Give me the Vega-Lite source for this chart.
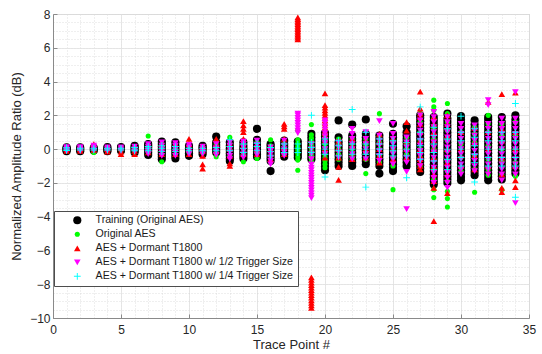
{
  "$schema": "https://vega.github.io/schema/vega-lite/v6.json",
  "width": 476,
  "height": 304,
  "autosize": {"type": "none"},
  "padding": {"left": 53, "top": 14, "right": 13, "bottom": 36},
  "config": {
    "font": "Liberation Sans",
    "view": {"stroke": "#bdbdbd", "strokeWidth": 1},
    "axis": {
      "labelFont": "Liberation Sans",
      "titleFont": "Liberation Sans",
      "labelColor": "#262626",
      "titleColor": "#262626",
      "titleFontWeight": "normal",
      "domainColor": "#8a8a8a",
      "tickColor": "#8a8a8a",
      "gridColor": "#e1e1e1",
      "gridWidth": 0.8
    }
  },
  "data": {
    "values": [
      {"x":1,"y":-0.12,"s":"T"},{"x":1,"y":-0.06,"s":"T"},{"x":1,"y":0,"s":"T"},{"x":1,"y":0.05,"s":"T"},{"x":1,"y":0.11,"s":"T"},
      {"x":2,"y":-0.12,"s":"T"},{"x":2,"y":-0.05,"s":"T"},{"x":2,"y":0.02,"s":"T"},{"x":2,"y":0.1,"s":"T"},
      {"x":3,"y":-0.08,"s":"T"},{"x":3,"y":0,"s":"T"},{"x":3,"y":0.08,"s":"T"},
      {"x":4,"y":-0.12,"s":"T"},{"x":4,"y":-0.04,"s":"T"},{"x":4,"y":0.04,"s":"T"},{"x":4,"y":0.12,"s":"T"},
      {"x":5,"y":-0.1,"s":"T"},{"x":5,"y":-0.02,"s":"T"},{"x":5,"y":0.06,"s":"T"},{"x":5,"y":0.12,"s":"T"},
      {"x":6,"y":-0.2,"s":"T"},{"x":6,"y":-0.1,"s":"T"},{"x":6,"y":0,"s":"T"},{"x":6,"y":0.1,"s":"T"},{"x":6,"y":0.2,"s":"T"},
      {"x":7,"y":-0.35,"s":"T"},{"x":7,"y":-0.2,"s":"T"},{"x":7,"y":-0.05,"s":"T"},{"x":7,"y":0.1,"s":"T"},{"x":7,"y":0.2,"s":"T"},{"x":7,"y":0.3,"s":"T"},
      {"x":8,"y":-0.6,"s":"T"},{"x":8,"y":-0.45,"s":"T"},{"x":8,"y":-0.3,"s":"T"},{"x":8,"y":-0.15,"s":"T"},{"x":8,"y":0,"s":"T"},{"x":8,"y":0.15,"s":"T"},{"x":8,"y":0.3,"s":"T"},{"x":8,"y":0.45,"s":"T"},
      {"x":9,"y":-0.55,"s":"T"},{"x":9,"y":-0.4,"s":"T"},{"x":9,"y":-0.25,"s":"T"},{"x":9,"y":-0.1,"s":"T"},{"x":9,"y":0.05,"s":"T"},{"x":9,"y":0.2,"s":"T"},{"x":9,"y":0.4,"s":"T"},
      {"x":10,"y":-0.4,"s":"T"},{"x":10,"y":-0.25,"s":"T"},{"x":10,"y":-0.1,"s":"T"},{"x":10,"y":0.05,"s":"T"},{"x":10,"y":0.2,"s":"T"},
      {"x":11,"y":-0.3,"s":"T"},{"x":11,"y":-0.15,"s":"T"},{"x":11,"y":0,"s":"T"},{"x":11,"y":0.1,"s":"T"},{"x":11,"y":0.2,"s":"T"},
      {"x":12,"y":-0.2,"s":"T"},{"x":12,"y":-0.05,"s":"T"},{"x":12,"y":0.1,"s":"T"},{"x":12,"y":0.25,"s":"T"},{"x":12,"y":0.4,"s":"T"},{"x":12,"y":0.75,"s":"T"},
      {"x":13,"y":-0.7,"s":"T"},{"x":13,"y":-0.55,"s":"T"},{"x":13,"y":-0.4,"s":"T"},{"x":13,"y":-0.25,"s":"T"},{"x":13,"y":-0.1,"s":"T"},{"x":13,"y":0.05,"s":"T"},{"x":13,"y":0.2,"s":"T"},{"x":13,"y":0.4,"s":"T"},
      {"x":14,"y":-0.55,"s":"T"},{"x":14,"y":-0.4,"s":"T"},{"x":14,"y":-0.25,"s":"T"},{"x":14,"y":-0.1,"s":"T"},{"x":14,"y":0.05,"s":"T"},{"x":14,"y":0.2,"s":"T"},{"x":14,"y":0.4,"s":"T"},
      {"x":15,"y":-0.45,"s":"T"},{"x":15,"y":-0.3,"s":"T"},{"x":15,"y":-0.15,"s":"T"},{"x":15,"y":0,"s":"T"},{"x":15,"y":0.15,"s":"T"},{"x":15,"y":0.3,"s":"T"},{"x":15,"y":0.55,"s":"T"},{"x":15,"y":1.2,"s":"T"},
      {"x":16,"y":-1.3,"s":"T"},{"x":16,"y":-0.7,"s":"T"},{"x":16,"y":-0.55,"s":"T"},{"x":16,"y":-0.4,"s":"T"},{"x":16,"y":-0.25,"s":"T"},{"x":16,"y":-0.1,"s":"T"},{"x":16,"y":0.05,"s":"T"},{"x":16,"y":0.2,"s":"T"},{"x":16,"y":0.3,"s":"T"},
      {"x":17,"y":-0.45,"s":"T"},{"x":17,"y":-0.3,"s":"T"},{"x":17,"y":-0.15,"s":"T"},{"x":17,"y":0,"s":"T"},{"x":17,"y":0.15,"s":"T"},{"x":17,"y":0.3,"s":"T"},{"x":17,"y":0.5,"s":"T"},
      {"x":18,"y":-0.5,"s":"T"},{"x":18,"y":-0.35,"s":"T"},{"x":18,"y":-0.2,"s":"T"},{"x":18,"y":-0.05,"s":"T"},{"x":18,"y":0.1,"s":"T"},{"x":18,"y":0.25,"s":"T"},{"x":18,"y":0.45,"s":"T"},
      {"x":19,"y":-0.6,"s":"T"},{"x":19,"y":-0.45,"s":"T"},{"x":19,"y":-0.3,"s":"T"},{"x":19,"y":-0.15,"s":"T"},{"x":19,"y":0,"s":"T"},{"x":19,"y":0.15,"s":"T"},{"x":19,"y":0.3,"s":"T"},{"x":19,"y":0.5,"s":"T"},{"x":19,"y":0.7,"s":"T"},{"x":19,"y":0.9,"s":"T"},
      {"x":20,"y":-1.25,"s":"T"},{"x":20,"y":-1.05,"s":"T"},{"x":20,"y":-0.85,"s":"T"},{"x":20,"y":-0.65,"s":"T"},{"x":20,"y":-0.45,"s":"T"},{"x":20,"y":-0.25,"s":"T"},{"x":20,"y":-0.05,"s":"T"},{"x":20,"y":0.15,"s":"T"},{"x":20,"y":0.35,"s":"T"},{"x":20,"y":0.55,"s":"T"},{"x":20,"y":0.75,"s":"T"},{"x":20,"y":0.95,"s":"T"},
      {"x":21,"y":-1,"s":"T"},{"x":21,"y":-0.8,"s":"T"},{"x":21,"y":-0.6,"s":"T"},{"x":21,"y":-0.4,"s":"T"},{"x":21,"y":-0.2,"s":"T"},{"x":21,"y":0,"s":"T"},{"x":21,"y":0.2,"s":"T"},{"x":21,"y":0.4,"s":"T"},{"x":21,"y":0.7,"s":"T"},{"x":21,"y":1.7,"s":"T"},
      {"x":22,"y":-1,"s":"T"},{"x":22,"y":-0.8,"s":"T"},{"x":22,"y":-0.6,"s":"T"},{"x":22,"y":-0.4,"s":"T"},{"x":22,"y":-0.2,"s":"T"},{"x":22,"y":0,"s":"T"},{"x":22,"y":0.2,"s":"T"},{"x":22,"y":0.4,"s":"T"},{"x":22,"y":0.6,"s":"T"},{"x":22,"y":0.8,"s":"T"},{"x":22,"y":1.45,"s":"T"},
      {"x":23,"y":-0.9,"s":"T"},{"x":23,"y":-0.7,"s":"T"},{"x":23,"y":-0.5,"s":"T"},{"x":23,"y":-0.3,"s":"T"},{"x":23,"y":-0.1,"s":"T"},{"x":23,"y":0.1,"s":"T"},{"x":23,"y":0.3,"s":"T"},{"x":23,"y":0.5,"s":"T"},{"x":23,"y":0.7,"s":"T"},{"x":23,"y":0.9,"s":"T"},{"x":23,"y":1.75,"s":"T"},
      {"x":24,"y":-1.45,"s":"T"},{"x":24,"y":-1,"s":"T"},{"x":24,"y":-0.8,"s":"T"},{"x":24,"y":-0.6,"s":"T"},{"x":24,"y":-0.4,"s":"T"},{"x":24,"y":-0.2,"s":"T"},{"x":24,"y":0,"s":"T"},{"x":24,"y":0.2,"s":"T"},{"x":24,"y":0.4,"s":"T"},{"x":24,"y":0.6,"s":"T"},{"x":24,"y":0.8,"s":"T"},
      {"x":25,"y":-1.3,"s":"T"},{"x":25,"y":-1.1,"s":"T"},{"x":25,"y":-0.9,"s":"T"},{"x":25,"y":-0.7,"s":"T"},{"x":25,"y":-0.5,"s":"T"},{"x":25,"y":-0.3,"s":"T"},{"x":25,"y":-0.1,"s":"T"},{"x":25,"y":0.1,"s":"T"},{"x":25,"y":0.3,"s":"T"},{"x":25,"y":0.5,"s":"T"},{"x":25,"y":0.7,"s":"T"},{"x":25,"y":0.9,"s":"T"},{"x":25,"y":1.5,"s":"T"},
      {"x":26,"y":-1,"s":"T"},{"x":26,"y":-0.8,"s":"T"},{"x":26,"y":-0.6,"s":"T"},{"x":26,"y":-0.4,"s":"T"},{"x":26,"y":-0.2,"s":"T"},{"x":26,"y":0,"s":"T"},{"x":26,"y":0.2,"s":"T"},{"x":26,"y":0.4,"s":"T"},{"x":26,"y":0.6,"s":"T"},{"x":26,"y":0.8,"s":"T"},{"x":26,"y":1,"s":"T"},{"x":26,"y":1.35,"s":"T"},
      {"x":27,"y":-1.35,"s":"T"},{"x":27,"y":-1.15,"s":"T"},{"x":27,"y":-0.95,"s":"T"},{"x":27,"y":-0.75,"s":"T"},{"x":27,"y":-0.55,"s":"T"},{"x":27,"y":-0.35,"s":"T"},{"x":27,"y":-0.15,"s":"T"},{"x":27,"y":0.05,"s":"T"},{"x":27,"y":0.25,"s":"T"},{"x":27,"y":0.45,"s":"T"},{"x":27,"y":0.65,"s":"T"},{"x":27,"y":0.85,"s":"T"},{"x":27,"y":1.05,"s":"T"},{"x":27,"y":1.25,"s":"T"},{"x":27,"y":1.45,"s":"T"},{"x":27,"y":1.65,"s":"T"},{"x":27,"y":1.85,"s":"T"},{"x":27,"y":2,"s":"T"},
      {"x":28,"y":-2.1,"s":"T"},{"x":28,"y":-1.9,"s":"T"},{"x":28,"y":-1.7,"s":"T"},{"x":28,"y":-1.5,"s":"T"},{"x":28,"y":-1.3,"s":"T"},{"x":28,"y":-1.1,"s":"T"},{"x":28,"y":-0.9,"s":"T"},{"x":28,"y":-0.7,"s":"T"},{"x":28,"y":-0.5,"s":"T"},{"x":28,"y":-0.3,"s":"T"},{"x":28,"y":-0.1,"s":"T"},{"x":28,"y":0.1,"s":"T"},{"x":28,"y":0.3,"s":"T"},{"x":28,"y":0.5,"s":"T"},{"x":28,"y":0.7,"s":"T"},{"x":28,"y":0.9,"s":"T"},{"x":28,"y":1.1,"s":"T"},{"x":28,"y":1.3,"s":"T"},{"x":28,"y":1.5,"s":"T"},{"x":28,"y":1.7,"s":"T"},{"x":28,"y":1.9,"s":"T"},
      {"x":29,"y":-2,"s":"T"},{"x":29,"y":-1.8,"s":"T"},{"x":29,"y":-1.6,"s":"T"},{"x":29,"y":-1.4,"s":"T"},{"x":29,"y":-1.2,"s":"T"},{"x":29,"y":-1,"s":"T"},{"x":29,"y":-0.8,"s":"T"},{"x":29,"y":-0.6,"s":"T"},{"x":29,"y":-0.4,"s":"T"},{"x":29,"y":-0.2,"s":"T"},{"x":29,"y":0,"s":"T"},{"x":29,"y":0.2,"s":"T"},{"x":29,"y":0.4,"s":"T"},{"x":29,"y":0.6,"s":"T"},{"x":29,"y":0.8,"s":"T"},{"x":29,"y":1,"s":"T"},{"x":29,"y":1.2,"s":"T"},{"x":29,"y":1.4,"s":"T"},{"x":29,"y":1.6,"s":"T"},{"x":29,"y":1.8,"s":"T"},{"x":29,"y":2.1,"s":"T"},
      {"x":30,"y":-1.85,"s":"T"},{"x":30,"y":-1.65,"s":"T"},{"x":30,"y":-1.45,"s":"T"},{"x":30,"y":-1.25,"s":"T"},{"x":30,"y":-1.05,"s":"T"},{"x":30,"y":-0.85,"s":"T"},{"x":30,"y":-0.65,"s":"T"},{"x":30,"y":-0.45,"s":"T"},{"x":30,"y":-0.25,"s":"T"},{"x":30,"y":-0.05,"s":"T"},{"x":30,"y":0.15,"s":"T"},{"x":30,"y":0.35,"s":"T"},{"x":30,"y":0.55,"s":"T"},{"x":30,"y":0.75,"s":"T"},{"x":30,"y":0.95,"s":"T"},{"x":30,"y":1.15,"s":"T"},{"x":30,"y":1.35,"s":"T"},{"x":30,"y":1.55,"s":"T"},{"x":30,"y":1.75,"s":"T"},{"x":30,"y":1.95,"s":"T"},
      {"x":31,"y":-1.55,"s":"T"},{"x":31,"y":-1.35,"s":"T"},{"x":31,"y":-1.15,"s":"T"},{"x":31,"y":-0.95,"s":"T"},{"x":31,"y":-0.75,"s":"T"},{"x":31,"y":-0.55,"s":"T"},{"x":31,"y":-0.35,"s":"T"},{"x":31,"y":-0.15,"s":"T"},{"x":31,"y":0.05,"s":"T"},{"x":31,"y":0.25,"s":"T"},{"x":31,"y":0.45,"s":"T"},{"x":31,"y":0.65,"s":"T"},{"x":31,"y":0.85,"s":"T"},{"x":31,"y":1.05,"s":"T"},{"x":31,"y":1.25,"s":"T"},{"x":31,"y":1.45,"s":"T"},{"x":31,"y":1.7,"s":"T"},
      {"x":32,"y":-1.85,"s":"T"},{"x":32,"y":-1.65,"s":"T"},{"x":32,"y":-1.45,"s":"T"},{"x":32,"y":-1.25,"s":"T"},{"x":32,"y":-1.05,"s":"T"},{"x":32,"y":-0.85,"s":"T"},{"x":32,"y":-0.65,"s":"T"},{"x":32,"y":-0.45,"s":"T"},{"x":32,"y":-0.25,"s":"T"},{"x":32,"y":-0.05,"s":"T"},{"x":32,"y":0.15,"s":"T"},{"x":32,"y":0.35,"s":"T"},{"x":32,"y":0.55,"s":"T"},{"x":32,"y":0.75,"s":"T"},{"x":32,"y":0.95,"s":"T"},{"x":32,"y":1.15,"s":"T"},{"x":32,"y":1.35,"s":"T"},{"x":32,"y":1.55,"s":"T"},{"x":32,"y":1.75,"s":"T"},{"x":32,"y":1.9,"s":"T"},
      {"x":33,"y":-1.8,"s":"T"},{"x":33,"y":-1.6,"s":"T"},{"x":33,"y":-1.4,"s":"T"},{"x":33,"y":-1.2,"s":"T"},{"x":33,"y":-1,"s":"T"},{"x":33,"y":-0.8,"s":"T"},{"x":33,"y":-0.6,"s":"T"},{"x":33,"y":-0.4,"s":"T"},{"x":33,"y":-0.2,"s":"T"},{"x":33,"y":0,"s":"T"},{"x":33,"y":0.2,"s":"T"},{"x":33,"y":0.4,"s":"T"},{"x":33,"y":0.6,"s":"T"},{"x":33,"y":0.8,"s":"T"},{"x":33,"y":1,"s":"T"},{"x":33,"y":1.2,"s":"T"},{"x":33,"y":1.4,"s":"T"},{"x":33,"y":1.6,"s":"T"},{"x":33,"y":1.9,"s":"T"},
      {"x":34,"y":-1.45,"s":"T"},{"x":34,"y":-1.25,"s":"T"},{"x":34,"y":-1.05,"s":"T"},{"x":34,"y":-0.85,"s":"T"},{"x":34,"y":-0.65,"s":"T"},{"x":34,"y":-0.45,"s":"T"},{"x":34,"y":-0.25,"s":"T"},{"x":34,"y":-0.05,"s":"T"},{"x":34,"y":0.15,"s":"T"},{"x":34,"y":0.35,"s":"T"},{"x":34,"y":0.55,"s":"T"},{"x":34,"y":0.75,"s":"T"},{"x":34,"y":0.95,"s":"T"},{"x":34,"y":1.15,"s":"T"},{"x":34,"y":1.35,"s":"T"},{"x":34,"y":1.55,"s":"T"},{"x":34,"y":1.75,"s":"T"},{"x":34,"y":2,"s":"T"},

      {"x":1,"y":-0.1,"s":"O"},{"x":1,"y":-0.02,"s":"O"},{"x":1,"y":0.06,"s":"O"},
      {"x":2,"y":-0.08,"s":"O"},{"x":2,"y":0,"s":"O"},{"x":2,"y":0.08,"s":"O"},
      {"x":3,"y":-0.2,"s":"O"},{"x":3,"y":-0.05,"s":"O"},{"x":3,"y":0.05,"s":"O"},
      {"x":4,"y":-0.1,"s":"O"},{"x":4,"y":0,"s":"O"},{"x":4,"y":0.1,"s":"O"},
      {"x":5,"y":-0.05,"s":"O"},{"x":5,"y":0.05,"s":"O"},
      {"x":6,"y":-0.1,"s":"O"},{"x":6,"y":0.05,"s":"O"},
      {"x":7,"y":-0.2,"s":"O"},{"x":7,"y":0,"s":"O"},{"x":7,"y":0.2,"s":"O"},{"x":7,"y":0.78,"s":"O"},
      {"x":8,"y":-0.75,"s":"O"},{"x":8,"y":-0.3,"s":"O"},{"x":8,"y":0,"s":"O"},{"x":8,"y":0.3,"s":"O"},
      {"x":9,"y":-0.3,"s":"O"},{"x":9,"y":0,"s":"O"},{"x":9,"y":0.2,"s":"O"},
      {"x":10,"y":-0.2,"s":"O"},{"x":10,"y":0.05,"s":"O"},
      {"x":11,"y":-0.2,"s":"O"},{"x":11,"y":0.1,"s":"O"},
      {"x":12,"y":-0.45,"s":"O"},{"x":12,"y":-0.2,"s":"O"},{"x":12,"y":0.1,"s":"O"},{"x":12,"y":0.3,"s":"O"},
      {"x":13,"y":-0.4,"s":"O"},{"x":13,"y":0,"s":"O"},{"x":13,"y":0.3,"s":"O"},{"x":13,"y":0.7,"s":"O"},
      {"x":14,"y":-0.75,"s":"O"},{"x":14,"y":-0.3,"s":"O"},{"x":14,"y":0,"s":"O"},{"x":14,"y":0.3,"s":"O"},
      {"x":15,"y":-0.55,"s":"O"},{"x":15,"y":-0.2,"s":"O"},{"x":15,"y":0.1,"s":"O"},{"x":15,"y":0.4,"s":"O"},
      {"x":16,"y":-0.75,"s":"O"},{"x":16,"y":-0.4,"s":"O"},{"x":16,"y":-0.1,"s":"O"},{"x":16,"y":0.2,"s":"O"},{"x":16,"y":0.55,"s":"O"},
      {"x":17,"y":-0.3,"s":"O"},{"x":17,"y":0,"s":"O"},{"x":17,"y":0.3,"s":"O"},
      {"x":18,"y":-1.25,"s":"O"},{"x":18,"y":-0.65,"s":"O"},{"x":18,"y":-0.45,"s":"O"},{"x":18,"y":-0.25,"s":"O"},{"x":18,"y":-0.05,"s":"O"},{"x":18,"y":0.15,"s":"O"},{"x":18,"y":0.35,"s":"O"},{"x":18,"y":0.55,"s":"O"},{"x":18,"y":1.1,"s":"O"},
      {"x":19,"y":-0.75,"s":"O"},{"x":19,"y":-0.55,"s":"O"},{"x":19,"y":-0.35,"s":"O"},{"x":19,"y":-0.15,"s":"O"},{"x":19,"y":0.05,"s":"O"},{"x":19,"y":0.25,"s":"O"},{"x":19,"y":0.45,"s":"O"},{"x":19,"y":0.65,"s":"O"},{"x":19,"y":0.85,"s":"O"},{"x":19,"y":1.45,"s":"O"},
      {"x":20,"y":-1.1,"s":"O"},{"x":20,"y":-0.9,"s":"O"},{"x":20,"y":-0.7,"s":"O"},{"x":20,"y":-0.5,"s":"O"},{"x":20,"y":-0.3,"s":"O"},{"x":20,"y":-0.1,"s":"O"},{"x":20,"y":0.1,"s":"O"},{"x":20,"y":0.3,"s":"O"},{"x":20,"y":0.5,"s":"O"},{"x":20,"y":0.7,"s":"O"},{"x":20,"y":0.9,"s":"O"},
      {"x":21,"y":-0.6,"s":"O"},{"x":21,"y":-0.3,"s":"O"},{"x":21,"y":0,"s":"O"},{"x":21,"y":0.3,"s":"O"},{"x":21,"y":0.6,"s":"O"},
      {"x":22,"y":-0.6,"s":"O"},{"x":22,"y":-0.3,"s":"O"},{"x":22,"y":0,"s":"O"},{"x":22,"y":0.3,"s":"O"},{"x":22,"y":0.6,"s":"O"},
      {"x":23,"y":-1.45,"s":"O"},{"x":23,"y":-0.6,"s":"O"},{"x":23,"y":-0.2,"s":"O"},{"x":23,"y":0.2,"s":"O"},{"x":23,"y":0.6,"s":"O"},
      {"x":24,"y":-0.8,"s":"O"},{"x":24,"y":-0.4,"s":"O"},{"x":24,"y":0,"s":"O"},{"x":24,"y":0.4,"s":"O"},{"x":24,"y":0.8,"s":"O"},{"x":24,"y":2.1,"s":"O"},
      {"x":25,"y":-2.4,"s":"O"},{"x":25,"y":-1,"s":"O"},{"x":25,"y":-0.5,"s":"O"},{"x":25,"y":0,"s":"O"},{"x":25,"y":0.5,"s":"O"},
      {"x":26,"y":-0.65,"s":"O"},{"x":26,"y":-0.3,"s":"O"},{"x":26,"y":0,"s":"O"},{"x":26,"y":0.3,"s":"O"},{"x":26,"y":0.7,"s":"O"},
      {"x":27,"y":-1,"s":"O"},{"x":27,"y":-0.5,"s":"O"},{"x":27,"y":0,"s":"O"},{"x":27,"y":0.5,"s":"O"},{"x":27,"y":1,"s":"O"},{"x":27,"y":1.6,"s":"O"},{"x":27,"y":2.1,"s":"O"},
      {"x":28,"y":-2.87,"s":"O"},{"x":28,"y":-2.4,"s":"O"},{"x":28,"y":-1.8,"s":"O"},{"x":28,"y":-1.2,"s":"O"},{"x":28,"y":-0.6,"s":"O"},{"x":28,"y":0,"s":"O"},{"x":28,"y":0.6,"s":"O"},{"x":28,"y":1.2,"s":"O"},{"x":28,"y":1.8,"s":"O"},{"x":28,"y":2.3,"s":"O"},{"x":28,"y":2.5,"s":"O"},{"x":28,"y":2.9,"s":"O"},
      {"x":29,"y":-3.43,"s":"O"},{"x":29,"y":-2.93,"s":"O"},{"x":29,"y":-2.5,"s":"O"},{"x":29,"y":-1.9,"s":"O"},{"x":29,"y":-1.3,"s":"O"},{"x":29,"y":-0.7,"s":"O"},{"x":29,"y":-0.1,"s":"O"},{"x":29,"y":0.5,"s":"O"},{"x":29,"y":1.1,"s":"O"},{"x":29,"y":1.6,"s":"O"},{"x":29,"y":2.1,"s":"O"},{"x":29,"y":2.7,"s":"O"},
      {"x":30,"y":-1.3,"s":"O"},{"x":30,"y":-0.5,"s":"O"},{"x":30,"y":0.3,"s":"O"},{"x":30,"y":1,"s":"O"},
      {"x":31,"y":-2.55,"s":"O"},{"x":31,"y":-1.2,"s":"O"},{"x":31,"y":-0.4,"s":"O"},{"x":31,"y":0.4,"s":"O"},{"x":31,"y":0.9,"s":"O"},{"x":31,"y":1.3,"s":"O"},
      {"x":32,"y":-1.55,"s":"O"},{"x":32,"y":-1.2,"s":"O"},{"x":32,"y":-0.6,"s":"O"},{"x":32,"y":0.2,"s":"O"},{"x":32,"y":1,"s":"O"},{"x":32,"y":1.5,"s":"O"},{"x":32,"y":2,"s":"O"},
      {"x":33,"y":-2.4,"s":"O"},{"x":33,"y":-1.5,"s":"O"},{"x":33,"y":-0.7,"s":"O"},{"x":33,"y":0,"s":"O"},{"x":33,"y":0.8,"s":"O"},{"x":33,"y":1.5,"s":"O"},
      {"x":34,"y":-1.6,"s":"O"},{"x":34,"y":-0.8,"s":"O"},{"x":34,"y":0,"s":"O"},{"x":34,"y":0.8,"s":"O"},{"x":34,"y":1.6,"s":"O"},

      {"x":1,"y":-0.1,"s":"D"},{"x":1,"y":0,"s":"D"},{"x":1,"y":0.12,"s":"D"},
      {"x":2,"y":-0.1,"s":"D"},{"x":2,"y":0,"s":"D"},{"x":2,"y":0.1,"s":"D"},
      {"x":3,"y":-0.05,"s":"D"},{"x":3,"y":0.1,"s":"D"},{"x":3,"y":0.3,"s":"D"},
      {"x":4,"y":-0.15,"s":"D"},{"x":4,"y":0,"s":"D"},{"x":4,"y":0.1,"s":"D"},
      {"x":5,"y":-0.3,"s":"D"},{"x":5,"y":-0.15,"s":"D"},{"x":5,"y":0.05,"s":"D"},
      {"x":6,"y":-0.3,"s":"D"},{"x":6,"y":-0.1,"s":"D"},{"x":6,"y":0.1,"s":"D"},
      {"x":7,"y":-0.2,"s":"D"},{"x":7,"y":0,"s":"D"},{"x":7,"y":0.25,"s":"D"},
      {"x":8,"y":-0.3,"s":"D"},{"x":8,"y":0,"s":"D"},{"x":8,"y":0.3,"s":"D"},
      {"x":9,"y":-0.3,"s":"D"},{"x":9,"y":0,"s":"D"},{"x":9,"y":0.3,"s":"D"},
      {"x":10,"y":-0.3,"s":"D"},{"x":10,"y":0,"s":"D"},{"x":10,"y":0.3,"s":"D"},{"x":10,"y":0.6,"s":"D"},
      {"x":11,"y":-1.15,"s":"D"},{"x":11,"y":-0.9,"s":"D"},{"x":11,"y":-0.4,"s":"D"},{"x":11,"y":-0.1,"s":"D"},{"x":11,"y":0.15,"s":"D"},
      {"x":12,"y":-0.1,"s":"D"},{"x":12,"y":0.3,"s":"D"},{"x":12,"y":0.6,"s":"D"},
      {"x":13,"y":-1,"s":"D"},{"x":13,"y":-0.85,"s":"D"},{"x":13,"y":-0.4,"s":"D"},{"x":13,"y":0,"s":"D"},{"x":13,"y":0.3,"s":"D"},
      {"x":14,"y":-0.3,"s":"D"},{"x":14,"y":0.2,"s":"D"},{"x":14,"y":0.6,"s":"D"},{"x":14,"y":1,"s":"D"},{"x":14,"y":1.2,"s":"D"},{"x":14,"y":1.4,"s":"D"},{"x":14,"y":1.65,"s":"D"},
      {"x":15,"y":-0.3,"s":"D"},{"x":15,"y":0,"s":"D"},{"x":15,"y":0.3,"s":"D"},
      {"x":16,"y":-0.6,"s":"D"},{"x":16,"y":-0.3,"s":"D"},{"x":16,"y":0,"s":"D"},
      {"x":17,"y":-0.3,"s":"D"},{"x":17,"y":0.1,"s":"D"},{"x":17,"y":0.6,"s":"D"},{"x":17,"y":1.2,"s":"D"},{"x":17,"y":1.35,"s":"D"},{"x":17,"y":1.5,"s":"D"},
      {"x":18,"y":6.5,"s":"D"},{"x":18,"y":6.6,"s":"D"},{"x":18,"y":6.7,"s":"D"},{"x":18,"y":6.8,"s":"D"},{"x":18,"y":6.9,"s":"D"},{"x":18,"y":7,"s":"D"},{"x":18,"y":7.1,"s":"D"},{"x":18,"y":7.2,"s":"D"},{"x":18,"y":7.3,"s":"D"},{"x":18,"y":7.4,"s":"D"},{"x":18,"y":7.5,"s":"D"},{"x":18,"y":7.6,"s":"D"},{"x":18,"y":7.7,"s":"D"},{"x":18,"y":7.8,"s":"D"},
      {"x":19,"y":-7.6,"s":"D"},{"x":19,"y":-7.75,"s":"D"},{"x":19,"y":-7.9,"s":"D"},{"x":19,"y":-8.05,"s":"D"},{"x":19,"y":-8.2,"s":"D"},{"x":19,"y":-8.35,"s":"D"},{"x":19,"y":-8.5,"s":"D"},{"x":19,"y":-8.65,"s":"D"},{"x":19,"y":-8.8,"s":"D"},{"x":19,"y":-8.95,"s":"D"},{"x":19,"y":-9.1,"s":"D"},{"x":19,"y":-9.25,"s":"D"},{"x":19,"y":-9.4,"s":"D"},
      {"x":20,"y":-0.5,"s":"D"},{"x":20,"y":0,"s":"D"},{"x":20,"y":0.5,"s":"D"},{"x":20,"y":0.8,"s":"D"},{"x":20,"y":0.95,"s":"D"},{"x":20,"y":1.1,"s":"D"},{"x":20,"y":1.25,"s":"D"},{"x":20,"y":1.4,"s":"D"},{"x":20,"y":1.55,"s":"D"},{"x":20,"y":1.7,"s":"D"},{"x":20,"y":1.85,"s":"D"},{"x":20,"y":2,"s":"D"},{"x":20,"y":2.15,"s":"D"},{"x":20,"y":2.3,"s":"D"},{"x":20,"y":2.45,"s":"D"},{"x":20,"y":2.6,"s":"D"},{"x":20,"y":3.3,"s":"D"},
      {"x":21,"y":-1.82,"s":"D"},{"x":21,"y":-1.05,"s":"D"},{"x":21,"y":-0.5,"s":"D"},{"x":21,"y":0,"s":"D"},{"x":21,"y":0.5,"s":"D"},
      {"x":22,"y":-0.6,"s":"D"},{"x":22,"y":-0.2,"s":"D"},{"x":22,"y":0.2,"s":"D"},{"x":22,"y":0.6,"s":"D"},
      {"x":23,"y":-0.5,"s":"D"},{"x":23,"y":0,"s":"D"},{"x":23,"y":0.5,"s":"D"},
      {"x":24,"y":-0.8,"s":"D"},{"x":24,"y":-0.4,"s":"D"},{"x":24,"y":0,"s":"D"},{"x":24,"y":0.4,"s":"D"},{"x":24,"y":0.9,"s":"D"},
      {"x":25,"y":-0.6,"s":"D"},{"x":25,"y":0,"s":"D"},{"x":25,"y":0.6,"s":"D"},
      {"x":26,"y":-0.5,"s":"D"},{"x":26,"y":0,"s":"D"},{"x":26,"y":0.5,"s":"D"},{"x":26,"y":1.1,"s":"D"},{"x":26,"y":1.6,"s":"D"},
      {"x":27,"y":-1.2,"s":"D"},{"x":27,"y":-1,"s":"D"},{"x":27,"y":-0.8,"s":"D"},{"x":27,"y":-0.6,"s":"D"},{"x":27,"y":-0.4,"s":"D"},{"x":27,"y":0,"s":"D"},{"x":27,"y":0.5,"s":"D"},{"x":27,"y":1,"s":"D"},{"x":27,"y":1.5,"s":"D"},{"x":27,"y":1.9,"s":"D"},{"x":27,"y":2.1,"s":"D"},{"x":27,"y":2.4,"s":"D"},{"x":27,"y":3.4,"s":"D"},
      {"x":28,"y":-4.27,"s":"D"},{"x":28,"y":-2.3,"s":"D"},{"x":28,"y":-1.9,"s":"D"},{"x":28,"y":-1.5,"s":"D"},{"x":28,"y":-1,"s":"D"},{"x":28,"y":-0.5,"s":"D"},{"x":28,"y":0,"s":"D"},{"x":28,"y":0.5,"s":"D"},{"x":28,"y":1,"s":"D"},{"x":28,"y":1.5,"s":"D"},{"x":28,"y":1.9,"s":"D"},
      {"x":29,"y":-2.6,"s":"D"},{"x":29,"y":-1.5,"s":"D"},{"x":29,"y":-0.8,"s":"D"},{"x":29,"y":0,"s":"D"},{"x":29,"y":0.8,"s":"D"},{"x":29,"y":1.5,"s":"D"},{"x":29,"y":2,"s":"D"},
      {"x":30,"y":-1,"s":"D"},{"x":30,"y":0,"s":"D"},{"x":30,"y":1,"s":"D"},
      {"x":31,"y":-1.2,"s":"D"},{"x":31,"y":-0.4,"s":"D"},{"x":31,"y":0.4,"s":"D"},{"x":31,"y":1.25,"s":"D"},
      {"x":32,"y":-1,"s":"D"},{"x":32,"y":0,"s":"D"},{"x":32,"y":1,"s":"D"},{"x":32,"y":2.8,"s":"D"},
      {"x":33,"y":-2.55,"s":"D"},{"x":33,"y":-2.3,"s":"D"},{"x":33,"y":-1.5,"s":"D"},{"x":33,"y":-0.5,"s":"D"},{"x":33,"y":0.5,"s":"D"},{"x":33,"y":1.2,"s":"D"},{"x":33,"y":3.25,"s":"D"},
      {"x":34,"y":-2.25,"s":"D"},{"x":34,"y":-1.85,"s":"D"},{"x":34,"y":-1,"s":"D"},{"x":34,"y":0,"s":"D"},{"x":34,"y":1,"s":"D"},{"x":34,"y":3.35,"s":"D"},

      {"x":1,"y":-0.12,"s":"H"},{"x":1,"y":-0.04,"s":"H"},{"x":1,"y":0.04,"s":"H"},{"x":1,"y":0.12,"s":"H"},
      {"x":2,"y":-0.12,"s":"H"},{"x":2,"y":-0.04,"s":"H"},{"x":2,"y":0.04,"s":"H"},{"x":2,"y":0.12,"s":"H"},
      {"x":3,"y":-0.1,"s":"H"},{"x":3,"y":0,"s":"H"},{"x":3,"y":0.1,"s":"H"},{"x":3,"y":0.2,"s":"H"},
      {"x":4,"y":-0.1,"s":"H"},{"x":4,"y":0,"s":"H"},{"x":4,"y":0.1,"s":"H"},
      {"x":5,"y":-0.1,"s":"H"},{"x":5,"y":0,"s":"H"},{"x":5,"y":0.1,"s":"H"},
      {"x":6,"y":-0.15,"s":"H"},{"x":6,"y":0,"s":"H"},{"x":6,"y":0.15,"s":"H"},
      {"x":7,"y":-0.3,"s":"H"},{"x":7,"y":-0.15,"s":"H"},{"x":7,"y":0,"s":"H"},{"x":7,"y":0.15,"s":"H"},{"x":7,"y":0.3,"s":"H"},
      {"x":8,"y":-0.4,"s":"H"},{"x":8,"y":-0.2,"s":"H"},{"x":8,"y":0,"s":"H"},{"x":8,"y":0.2,"s":"H"},{"x":8,"y":0.4,"s":"H"},
      {"x":9,"y":-0.4,"s":"H"},{"x":9,"y":-0.2,"s":"H"},{"x":9,"y":0,"s":"H"},{"x":9,"y":0.2,"s":"H"},{"x":9,"y":0.35,"s":"H"},
      {"x":10,"y":-0.3,"s":"H"},{"x":10,"y":-0.1,"s":"H"},{"x":10,"y":0.1,"s":"H"},{"x":10,"y":0.25,"s":"H"},
      {"x":11,"y":-0.3,"s":"H"},{"x":11,"y":-0.15,"s":"H"},{"x":11,"y":0,"s":"H"},{"x":11,"y":0.15,"s":"H"},
      {"x":12,"y":-0.35,"s":"H"},{"x":12,"y":-0.15,"s":"H"},{"x":12,"y":0.05,"s":"H"},{"x":12,"y":0.3,"s":"H"},
      {"x":13,"y":-0.6,"s":"H"},{"x":13,"y":-0.4,"s":"H"},{"x":13,"y":-0.2,"s":"H"},{"x":13,"y":0,"s":"H"},{"x":13,"y":0.2,"s":"H"},{"x":13,"y":0.4,"s":"H"},
      {"x":14,"y":-0.5,"s":"H"},{"x":14,"y":-0.3,"s":"H"},{"x":14,"y":-0.1,"s":"H"},{"x":14,"y":0.1,"s":"H"},{"x":14,"y":0.3,"s":"H"},{"x":14,"y":0.45,"s":"H"},
      {"x":15,"y":-0.35,"s":"H"},{"x":15,"y":-0.15,"s":"H"},{"x":15,"y":0.05,"s":"H"},{"x":15,"y":0.25,"s":"H"},{"x":15,"y":0.5,"s":"H"},
      {"x":16,"y":-0.9,"s":"H"},{"x":16,"y":-0.7,"s":"H"},{"x":16,"y":-0.5,"s":"H"},{"x":16,"y":-0.3,"s":"H"},{"x":16,"y":-0.1,"s":"H"},{"x":16,"y":0.1,"s":"H"},
      {"x":17,"y":-0.4,"s":"H"},{"x":17,"y":-0.2,"s":"H"},{"x":17,"y":0,"s":"H"},{"x":17,"y":0.2,"s":"H"},{"x":17,"y":0.5,"s":"H"},
      {"x":18,"y":0.95,"s":"H"},{"x":18,"y":1.1,"s":"H"},{"x":18,"y":1.25,"s":"H"},{"x":18,"y":1.4,"s":"H"},{"x":18,"y":1.55,"s":"H"},{"x":18,"y":1.7,"s":"H"},{"x":18,"y":1.85,"s":"H"},{"x":18,"y":2,"s":"H"},{"x":18,"y":2.1,"s":"H"},
      {"x":19,"y":-2.9,"s":"H"},{"x":19,"y":-2.75,"s":"H"},{"x":19,"y":-2.6,"s":"H"},{"x":19,"y":-2.45,"s":"H"},{"x":19,"y":-2.3,"s":"H"},{"x":19,"y":-2.15,"s":"H"},{"x":19,"y":-2,"s":"H"},{"x":19,"y":-1.85,"s":"H"},{"x":19,"y":-1.7,"s":"H"},{"x":19,"y":-1.55,"s":"H"},{"x":19,"y":-1.4,"s":"H"},{"x":19,"y":-1.25,"s":"H"},{"x":19,"y":-1.1,"s":"H"},{"x":19,"y":-0.9,"s":"H"},{"x":19,"y":-0.6,"s":"H"},{"x":19,"y":-0.3,"s":"H"},{"x":19,"y":0,"s":"H"},{"x":19,"y":0.3,"s":"H"},
      {"x":20,"y":-0.3,"s":"H"},{"x":20,"y":0,"s":"H"},{"x":20,"y":0.35,"s":"H"},{"x":20,"y":0.55,"s":"H"},{"x":20,"y":0.75,"s":"H"},{"x":20,"y":0.95,"s":"H"},{"x":20,"y":1.15,"s":"H"},{"x":20,"y":1.35,"s":"H"},{"x":20,"y":1.55,"s":"H"},{"x":20,"y":1.7,"s":"H"},
      {"x":21,"y":-0.5,"s":"H"},{"x":21,"y":-0.2,"s":"H"},{"x":21,"y":0.1,"s":"H"},{"x":21,"y":0.4,"s":"H"},
      {"x":22,"y":-0.6,"s":"H"},{"x":22,"y":-0.3,"s":"H"},{"x":22,"y":0,"s":"H"},{"x":22,"y":0.3,"s":"H"},{"x":22,"y":0.6,"s":"H"},{"x":22,"y":0.9,"s":"H"},{"x":22,"y":1.2,"s":"H"},
      {"x":23,"y":-0.6,"s":"H"},{"x":23,"y":-0.3,"s":"H"},{"x":23,"y":0,"s":"H"},{"x":23,"y":0.3,"s":"H"},{"x":23,"y":0.6,"s":"H"},{"x":23,"y":1,"s":"H"},
      {"x":24,"y":-0.7,"s":"H"},{"x":24,"y":-0.4,"s":"H"},{"x":24,"y":-0.1,"s":"H"},{"x":24,"y":0.2,"s":"H"},{"x":24,"y":0.5,"s":"H"},{"x":24,"y":0.8,"s":"H"},{"x":24,"y":1.65,"s":"H"},
      {"x":25,"y":-0.9,"s":"H"},{"x":25,"y":-0.6,"s":"H"},{"x":25,"y":-0.3,"s":"H"},{"x":25,"y":0,"s":"H"},{"x":25,"y":0.3,"s":"H"},{"x":25,"y":0.6,"s":"H"},{"x":25,"y":0.9,"s":"H"},{"x":25,"y":1.5,"s":"H"},
      {"x":26,"y":-3.55,"s":"H"},{"x":26,"y":-1.35,"s":"H"},{"x":26,"y":-0.8,"s":"H"},{"x":26,"y":-0.5,"s":"H"},{"x":26,"y":-0.2,"s":"H"},{"x":26,"y":0.1,"s":"H"},{"x":26,"y":0.4,"s":"H"},{"x":26,"y":0.7,"s":"H"},
      {"x":27,"y":-1,"s":"H"},{"x":27,"y":-0.7,"s":"H"},{"x":27,"y":-0.4,"s":"H"},{"x":27,"y":-0.1,"s":"H"},{"x":27,"y":0.2,"s":"H"},{"x":27,"y":0.5,"s":"H"},{"x":27,"y":0.8,"s":"H"},{"x":27,"y":1.1,"s":"H"},{"x":27,"y":1.4,"s":"H"},{"x":27,"y":1.7,"s":"H"},{"x":27,"y":2,"s":"H"},
      {"x":28,"y":-2,"s":"H"},{"x":28,"y":-1.7,"s":"H"},{"x":28,"y":-1.4,"s":"H"},{"x":28,"y":-1.1,"s":"H"},{"x":28,"y":-0.8,"s":"H"},{"x":28,"y":-0.5,"s":"H"},{"x":28,"y":-0.2,"s":"H"},{"x":28,"y":0.1,"s":"H"},{"x":28,"y":0.4,"s":"H"},{"x":28,"y":0.7,"s":"H"},{"x":28,"y":1,"s":"H"},{"x":28,"y":1.3,"s":"H"},{"x":28,"y":1.6,"s":"H"},{"x":28,"y":1.9,"s":"H"},{"x":28,"y":2.2,"s":"H"},
      {"x":29,"y":-2.3,"s":"H"},{"x":29,"y":-2,"s":"H"},{"x":29,"y":-1.7,"s":"H"},{"x":29,"y":-1.4,"s":"H"},{"x":29,"y":-1.1,"s":"H"},{"x":29,"y":-0.8,"s":"H"},{"x":29,"y":-0.5,"s":"H"},{"x":29,"y":-0.2,"s":"H"},{"x":29,"y":0.1,"s":"H"},{"x":29,"y":0.4,"s":"H"},{"x":29,"y":0.7,"s":"H"},{"x":29,"y":1,"s":"H"},{"x":29,"y":1.3,"s":"H"},{"x":29,"y":1.6,"s":"H"},{"x":29,"y":1.9,"s":"H"},
      {"x":30,"y":-1.5,"s":"H"},{"x":30,"y":-1.2,"s":"H"},{"x":30,"y":-0.9,"s":"H"},{"x":30,"y":-0.6,"s":"H"},{"x":30,"y":-0.3,"s":"H"},{"x":30,"y":0,"s":"H"},{"x":30,"y":0.3,"s":"H"},{"x":30,"y":0.6,"s":"H"},{"x":30,"y":0.9,"s":"H"},{"x":30,"y":1.2,"s":"H"},{"x":30,"y":1.5,"s":"H"},
      {"x":31,"y":-1.3,"s":"H"},{"x":31,"y":-1,"s":"H"},{"x":31,"y":-0.7,"s":"H"},{"x":31,"y":-0.4,"s":"H"},{"x":31,"y":-0.1,"s":"H"},{"x":31,"y":0.2,"s":"H"},{"x":31,"y":0.5,"s":"H"},{"x":31,"y":0.8,"s":"H"},{"x":31,"y":1.1,"s":"H"},{"x":31,"y":1.4,"s":"H"},
      {"x":32,"y":-1.5,"s":"H"},{"x":32,"y":-1.2,"s":"H"},{"x":32,"y":-0.9,"s":"H"},{"x":32,"y":-0.6,"s":"H"},{"x":32,"y":-0.3,"s":"H"},{"x":32,"y":0,"s":"H"},{"x":32,"y":0.3,"s":"H"},{"x":32,"y":0.6,"s":"H"},{"x":32,"y":0.9,"s":"H"},{"x":32,"y":1.2,"s":"H"},{"x":32,"y":1.5,"s":"H"},{"x":32,"y":2.6,"s":"H"},{"x":32,"y":2.9,"s":"H"},
      {"x":33,"y":-1.85,"s":"H"},{"x":33,"y":-1.5,"s":"H"},{"x":33,"y":-1.2,"s":"H"},{"x":33,"y":-0.9,"s":"H"},{"x":33,"y":-0.6,"s":"H"},{"x":33,"y":-0.3,"s":"H"},{"x":33,"y":0,"s":"H"},{"x":33,"y":0.3,"s":"H"},{"x":33,"y":0.6,"s":"H"},{"x":33,"y":0.9,"s":"H"},{"x":33,"y":1.2,"s":"H"},{"x":33,"y":1.5,"s":"H"},{"x":33,"y":1.8,"s":"H"},
      {"x":34,"y":-3.2,"s":"H"},{"x":34,"y":-1.5,"s":"H"},{"x":34,"y":-1.2,"s":"H"},{"x":34,"y":-0.9,"s":"H"},{"x":34,"y":-0.6,"s":"H"},{"x":34,"y":-0.3,"s":"H"},{"x":34,"y":0,"s":"H"},{"x":34,"y":0.3,"s":"H"},{"x":34,"y":0.6,"s":"H"},{"x":34,"y":0.9,"s":"H"},{"x":34,"y":1.2,"s":"H"},{"x":34,"y":1.5,"s":"H"},{"x":34,"y":1.8,"s":"H"},{"x":34,"y":3.38,"s":"H"},

      {"x":1,"y":-0.08,"s":"Q"},{"x":1,"y":0,"s":"Q"},{"x":1,"y":0.08,"s":"Q"},
      {"x":2,"y":-0.05,"s":"Q"},{"x":2,"y":0.05,"s":"Q"},
      {"x":3,"y":-0.05,"s":"Q"},{"x":3,"y":0.05,"s":"Q"},
      {"x":4,"y":-0.05,"s":"Q"},{"x":4,"y":0.05,"s":"Q"},
      {"x":5,"y":-0.05,"s":"Q"},{"x":5,"y":0.05,"s":"Q"},
      {"x":6,"y":-0.1,"s":"Q"},{"x":6,"y":0,"s":"Q"},{"x":6,"y":0.1,"s":"Q"},
      {"x":7,"y":-0.1,"s":"Q"},{"x":7,"y":0.05,"s":"Q"},{"x":7,"y":0.15,"s":"Q"},
      {"x":8,"y":-0.15,"s":"Q"},{"x":8,"y":0.05,"s":"Q"},{"x":8,"y":0.2,"s":"Q"},
      {"x":9,"y":-0.15,"s":"Q"},{"x":9,"y":0,"s":"Q"},{"x":9,"y":0.15,"s":"Q"},
      {"x":10,"y":-0.1,"s":"Q"},{"x":10,"y":0.05,"s":"Q"},
      {"x":11,"y":-0.1,"s":"Q"},{"x":11,"y":0.05,"s":"Q"},
      {"x":12,"y":-0.1,"s":"Q"},{"x":12,"y":0.1,"s":"Q"},
      {"x":13,"y":-0.1,"s":"Q"},{"x":13,"y":0.15,"s":"Q"},{"x":13,"y":0.55,"s":"Q"},
      {"x":14,"y":-0.2,"s":"Q"},{"x":14,"y":0.05,"s":"Q"},{"x":14,"y":0.3,"s":"Q"},
      {"x":15,"y":-0.1,"s":"Q"},{"x":15,"y":0.15,"s":"Q"},{"x":15,"y":0.35,"s":"Q"},
      {"x":16,"y":-0.4,"s":"Q"},{"x":16,"y":-0.15,"s":"Q"},{"x":16,"y":0.1,"s":"Q"},
      {"x":17,"y":-0.2,"s":"Q"},{"x":17,"y":0.05,"s":"Q"},{"x":17,"y":0.3,"s":"Q"},
      {"x":18,"y":-0.2,"s":"Q"},{"x":18,"y":0.05,"s":"Q"},{"x":18,"y":0.3,"s":"Q"},
      {"x":19,"y":-0.2,"s":"Q"},{"x":19,"y":0.1,"s":"Q"},{"x":19,"y":0.4,"s":"Q"},{"x":19,"y":2,"s":"Q"},
      {"x":20,"y":-1.65,"s":"Q"},{"x":20,"y":-0.3,"s":"Q"},{"x":20,"y":0,"s":"Q"},{"x":20,"y":0.3,"s":"Q"},{"x":20,"y":0.6,"s":"Q"},
      {"x":21,"y":-0.4,"s":"Q"},{"x":21,"y":-0.1,"s":"Q"},{"x":21,"y":0.2,"s":"Q"},{"x":21,"y":0.5,"s":"Q"},
      {"x":22,"y":-0.3,"s":"Q"},{"x":22,"y":0,"s":"Q"},{"x":22,"y":0.3,"s":"Q"},{"x":22,"y":2.35,"s":"Q"},
      {"x":23,"y":-2.25,"s":"Q"},{"x":23,"y":-0.3,"s":"Q"},{"x":23,"y":0,"s":"Q"},{"x":23,"y":0.3,"s":"Q"},{"x":23,"y":1,"s":"Q"},
      {"x":24,"y":-0.3,"s":"Q"},{"x":24,"y":0,"s":"Q"},{"x":24,"y":0.3,"s":"Q"},{"x":24,"y":0.6,"s":"Q"},
      {"x":25,"y":-0.4,"s":"Q"},{"x":25,"y":-0.1,"s":"Q"},{"x":25,"y":0.2,"s":"Q"},{"x":25,"y":0.5,"s":"Q"},
      {"x":26,"y":-1.7,"s":"Q"},{"x":26,"y":-0.4,"s":"Q"},{"x":26,"y":0,"s":"Q"},{"x":26,"y":0.4,"s":"Q"},
      {"x":27,"y":-0.6,"s":"Q"},{"x":27,"y":-0.2,"s":"Q"},{"x":27,"y":0.2,"s":"Q"},{"x":27,"y":0.6,"s":"Q"},{"x":27,"y":1,"s":"Q"},{"x":27,"y":2.5,"s":"Q"},
      {"x":28,"y":-1.2,"s":"Q"},{"x":28,"y":-0.7,"s":"Q"},{"x":28,"y":-0.2,"s":"Q"},{"x":28,"y":0.3,"s":"Q"},{"x":28,"y":0.8,"s":"Q"},{"x":28,"y":1.3,"s":"Q"},
      {"x":29,"y":-1.2,"s":"Q"},{"x":29,"y":-0.6,"s":"Q"},{"x":29,"y":0,"s":"Q"},{"x":29,"y":0.6,"s":"Q"},{"x":29,"y":1.2,"s":"Q"},
      {"x":30,"y":-1,"s":"Q"},{"x":30,"y":-0.5,"s":"Q"},{"x":30,"y":0,"s":"Q"},{"x":30,"y":0.5,"s":"Q"},{"x":30,"y":1,"s":"Q"},{"x":30,"y":1.95,"s":"Q"},
      {"x":31,"y":-1.95,"s":"Q"},{"x":31,"y":-0.8,"s":"Q"},{"x":31,"y":-0.3,"s":"Q"},{"x":31,"y":0.2,"s":"Q"},{"x":31,"y":0.7,"s":"Q"},{"x":31,"y":1.2,"s":"Q"},
      {"x":32,"y":-1,"s":"Q"},{"x":32,"y":-0.5,"s":"Q"},{"x":32,"y":0,"s":"Q"},{"x":32,"y":0.5,"s":"Q"},{"x":32,"y":1,"s":"Q"},
      {"x":33,"y":-1,"s":"Q"},{"x":33,"y":-0.5,"s":"Q"},{"x":33,"y":0,"s":"Q"},{"x":33,"y":0.5,"s":"Q"},{"x":33,"y":1,"s":"Q"},
      {"x":34,"y":-2.85,"s":"Q"},{"x":34,"y":-1,"s":"Q"},{"x":34,"y":-0.5,"s":"Q"},{"x":34,"y":0,"s":"Q"},{"x":34,"y":0.5,"s":"Q"},{"x":34,"y":1,"s":"Q"},{"x":34,"y":2.7,"s":"Q"}
    ]
  },
  "layer": [
    {
      "mark": {"type": "point", "opacity": 0},
      "encoding": {
        "x": {
          "field": "x", "type": "quantitative",
          "scale": {"domain": [0, 35], "nice": false, "zero": false},
          "axis": {"orient": "bottom", "values": [0,1,2,3,4,5,6,7,8,9,10,11,12,13,14,15,16,17,18,19,20,21,22,23,24,25,26,27,28,29,30,31,32,33,34,35],
                   "domain": false, "ticks": false, "labels": false, "title": null,
                   "grid": true, "gridDash": [1, 2], "gridColor": "#d2d2d2", "gridWidth": 0.7}
        },
        "y": {
          "field": "y", "type": "quantitative",
          "scale": {"domain": [-10, 8], "nice": false, "zero": false},
          "axis": {"orient": "left", "values": [-10,-9.5,-9,-8.5,-8,-7.5,-7,-6.5,-6,-5.5,-5,-4.5,-4,-3.5,-3,-2.5,-2,-1.5,-1,-0.5,0,0.5,1,1.5,2,2.5,3,3.5,4,4.5,5,5.5,6,6.5,7,7.5,8],
                   "domain": false, "ticks": false, "labels": false, "title": null,
                   "grid": true, "gridDash": [1, 2], "gridColor": "#d2d2d2", "gridWidth": 0.7}
        }
      }
    },
    {
      "mark": {"type": "point", "filled": true, "opacity": 1, "strokeWidth": 0},
      "encoding": {
        "x": {
          "field": "x", "type": "quantitative",
          "scale": {"domain": [0, 35], "nice": false, "zero": false},
          "axis": {"orient": "bottom", "values": [0,5,10,15,20,25,30,35], "grid": true,
                   "tickSize": -4, "labelPadding": 10, "labelFontSize": 12, "labelFlush": false,
                   "title": "Trace Point #", "titleFontSize": 13, "titlePadding": 3}
        },
        "y": {
          "field": "y", "type": "quantitative",
          "scale": {"domain": [-10, 8], "nice": false, "zero": false},
          "axis": {"orient": "left", "values": [-10,-8,-6,-4,-2,0,2,4,6,8], "grid": true,
                   "tickSize": -4, "labelPadding": 7, "labelFontSize": 12, "labelFlush": false,
                   "title": "Normalized Amplitude Ratio (dB)", "titleFontSize": 13, "titlePadding": 6}
        },
        "color": {
          "field": "s", "type": "nominal",
          "scale": {"domain": ["T","O","D","H","Q"], "range": ["#000000","#00ff00","#ff0000","#ff00ff","#00ffff"]},
          "legend": {"orient": "none", "legendX": 1, "legendY": 197, "title": null, "padding": 4,
                     "strokeColor": "#4d4d4d", "fillColor": "#ffffff", "labelFontSize": 10.6, "labelColor": "#1a1a1a",
                     "labelFont": "Liberation Sans", "symbolOffset": 14, "labelOffset": 13, "rowPadding": 3, "labelLimit": 400,
                     "labelExpr": "{'T':'Training (Original AES)','O':'Original AES','D':'AES + Dormant T1800','H':'AES + Dormant T1800 w/ 1/2 Trigger Size','Q':'AES + Dormant T1800 w/ 1/4 Trigger Size'}[datum.label]"}
        },
        "shape": {
          "field": "s", "type": "nominal",
          "scale": {"domain": ["T","O","D","H","Q"], "range": ["circle","circle","triangle-up","triangle-down","M-1,-0.14H1V0.14H-1Z M-0.14,-1H0.14V1H-0.14Z"]},
          "legend": {"orient": "none", "legendX": 1, "legendY": 197, "title": null, "padding": 4,
                     "strokeColor": "#4d4d4d", "fillColor": "#ffffff", "labelFontSize": 10.6, "labelColor": "#1a1a1a",
                     "labelFont": "Liberation Sans", "symbolOffset": 14, "labelOffset": 13, "rowPadding": 3, "labelLimit": 400,
                     "labelExpr": "{'T':'Training (Original AES)','O':'Original AES','D':'AES + Dormant T1800','H':'AES + Dormant T1800 w/ 1/2 Trigger Size','Q':'AES + Dormant T1800 w/ 1/4 Trigger Size'}[datum.label]"}
        },
        "size": {
          "field": "s", "type": "nominal",
          "scale": {"type": "ordinal", "domain": ["T","O","D","H","Q"], "range": [66, 26, 44, 44, 46]},
          "legend": {"orient": "none", "legendX": 1, "legendY": 197, "title": null, "padding": 4,
                     "strokeColor": "#4d4d4d", "fillColor": "#ffffff", "labelFontSize": 10.6, "labelColor": "#1a1a1a",
                     "labelFont": "Liberation Sans", "symbolOffset": 14, "labelOffset": 13, "rowPadding": 3, "labelLimit": 400,
                     "labelExpr": "{'T':'Training (Original AES)','O':'Original AES','D':'AES + Dormant T1800','H':'AES + Dormant T1800 w/ 1/2 Trigger Size','Q':'AES + Dormant T1800 w/ 1/4 Trigger Size'}[datum.label]"}
        }
      }
    }
  ],
  "resolve": {"axis": {"x": "independent", "y": "independent"}}
}
